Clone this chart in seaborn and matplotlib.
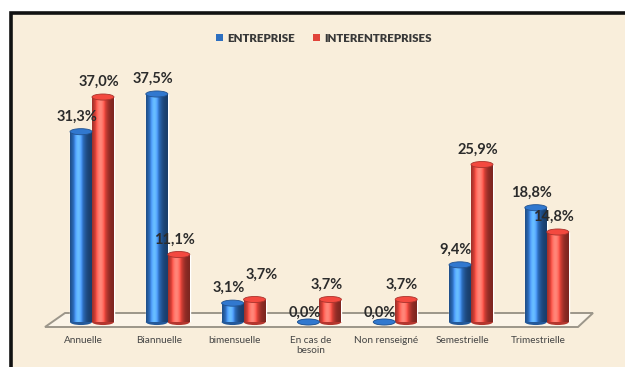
import numpy as np
import pandas as pd
import matplotlib
matplotlib.use("Agg")
import matplotlib.pyplot as plt
from matplotlib.patches import Ellipse, Rectangle, Polygon
from matplotlib.colors import to_rgb
import seaborn as sns

categories = ["Annuelle", "Biannuelle", "bimensuelle", "En cas de\nbesoin",
              "Non renseigné", "Semestrielle", "Trimestrielle"]
series = ["ENTREPRISE", "INTERENTREPRISES"]
entreprise = [31.3, 37.5, 3.1, 0.0, 0.0, 9.4, 18.8]
interentreprises = [37.0, 11.1, 3.7, 3.7, 3.7, 25.9, 14.8]
colors = ["#2d6fc0", "#e1443a"]

df = pd.DataFrame({
    "categorie": categories * 2,
    "serie": [series[0]] * len(categories) + [series[1]] * len(categories),
    "valeur": entreprise + interentreprises,
})

sns.set_theme(style="white")
plt.rcParams["font.family"] = ["Lato", "DejaVu Sans"]

W, H = 625, 367
fig = plt.figure(figsize=(W / 100, H / 100), dpi=100)
fig.patch.set_facecolor("white")

# framed beige panel
panel = Rectangle((10.5 / W, -0.05), 1.1, (H - 12.5) / H + 0.05, transform=fig.transFigure,
                  facecolor="#f9eedb", edgecolor="#111111", linewidth=2.6, zorder=-3)
fig.patches.append(panel)

# floor slab
floor = Polygon([(45 / W, 1 - 327 / H), (578 / W, 1 - 327 / H),
                 (593 / W, 1 - 313 / H), (65 / W, 1 - 313 / H)],
                closed=True, transform=fig.transFigure, facecolor="#fbf4e8",
                edgecolor="#9c968a", linewidth=1.4, zorder=-2)
fig.patches.append(floor)

L, R = 54.1, 584.7
bottom_px, top_px = 322, 48.4
ax = fig.add_axes([L / W, 1 - bottom_px / H, (R - L) / W, (bottom_px - top_px) / H])
ax.set_facecolor("none")

sns.barplot(data=df, x="categorie", y="valeur", hue="serie", hue_order=series,
            order=categories, palette=colors, width=0.58, gap=0, legend=False,
            saturation=1, ax=ax, zorder=3)
ax.axis("off")


def shade(c):
    base = np.array(to_rgb(c))
    t = np.linspace(0, 1, 64)
    light = 0.55 + 0.75 * np.exp(-((t - 0.38) / 0.3) ** 2)
    light = np.clip(light, 0, 1.35)
    rgb = np.clip(base[None, :] * light[:, None] + np.maximum(light - 1, 0)[:, None] * 0.6, 0, 1)
    return rgb[None, :, :]


# label placement (pixels): above the cap; flat bars sit lower, one label lifted clear
default_offset = (-4, 15)
zero_offset = (-4, 9)
nudges = {(1, 2): (7, 25)}

ell_h = 1.0
for k, (cont, col, vals) in enumerate(zip(ax.containers, colors, [entreprise, interentreprises])):
    grad = shade(col)
    base = np.array(to_rgb(col))
    for i, (patch, v) in enumerate(zip(cont.patches, vals)):
        x0, w, h = patch.get_x(), patch.get_width(), patch.get_height()
        cx = x0 + w / 2
        # bottom cap
        ax.add_patch(Ellipse((cx, 0), w, ell_h, facecolor=base * 0.8, edgecolor="none",
                             zorder=2.5, clip_on=False))
        if h > 0:
            im = ax.imshow(grad, extent=(x0, x0 + w, 0, h), aspect="auto",
                           zorder=3.5, interpolation="bilinear")
            im.set_clip_path(patch)
        # top cap
        ax.add_patch(Ellipse((cx, h), w, ell_h, facecolor=np.clip(base * 1.08, 0, 1),
                             edgecolor=base * 0.75, linewidth=0.6, zorder=4, clip_on=False))
        off = nudges.get((k, i), zero_offset if v == 0 else default_offset)
        ax.annotate(f"{v:.1f}".replace(".", ",") + "%", (cx, h), xytext=off,
                    textcoords="offset pixels", ha="center", va="center",
                    fontsize=10.5, fontweight="bold", color="#2b2b2b", zorder=6,
                    annotation_clip=False)
ax.set_xlim(-0.5, 6.5)
ax.set_ylim(0, 45)

# category labels along the front edge of the floor (slightly left of the bars)
shift = 9 / ((R - L) / 7)
ax2 = ax.twiny()
ax2.set_xlim(-0.5 + shift, 6.5 + shift)
ax2.xaxis.set_ticks_position("bottom")
ax2.set_xticks(range(len(categories)))
ax2.set_xticklabels(categories, fontsize=7.2, color="#454545", linespacing=1.2)
ax2.tick_params(axis="x", length=0, pad=10)
for s in ax2.spines.values():
    s.set_visible(False)
ax2.set_yticks([])
ax2.set_facecolor("none")

# legend
handles = [Rectangle((0, 0), 1, 1, facecolor=c, edgecolor="none") for c in colors]
leg = fig.legend(handles, series, loc="center", bbox_to_anchor=(324 / W, 1 - 38 / H),
                 ncol=2, frameon=False, handlelength=0.55, handleheight=0.55,
                 handletextpad=0.4, columnspacing=1.6,
                 prop={"family": ["Lato", "DejaVu Sans"], "weight": "heavy", "size": 8.3})
for t in leg.get_texts():
    t.set_color("#383838")

fig.savefig("out.png", dpi=100)
